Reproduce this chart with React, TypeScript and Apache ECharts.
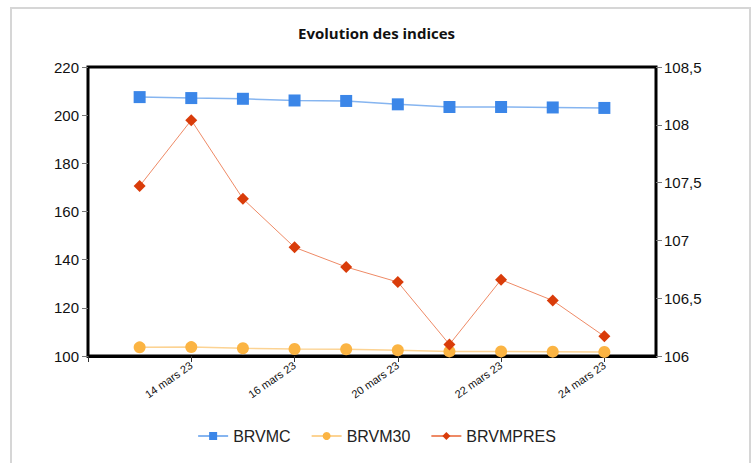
import React, { useEffect, useRef } from "react";
import * as echarts from "echarts";

const dates = ["13 mars 23", "14 mars 23", "15 mars 23", "16 mars 23", "17 mars 23", "20 mars 23", "21 mars 23", "22 mars 23", "23 mars 23", "24 mars 23"];
const brvmc = [207.5, 207.1, 206.8, 206.1, 205.9, 204.5, 203.4, 203.4, 203.2, 203.0];
const brvm30 = [103.6, 103.7, 103.2, 102.9, 102.8, 102.4, 101.9, 101.9, 101.8, 101.7];
const brvmpres = [107.47, 108.04, 107.36, 106.94, 106.77, 106.64, 106.1, 106.66, 106.48, 106.17];
const leftTicks = { min: 100, max: 220, interval: 20 };
const rightTicks = { min: 106, max: 108.5, interval: 0.5 };

const pad = (arr: (number | string)[], fill: any) => [fill, ...arr, fill];

export default function App() {
  const ref = useRef<HTMLDivElement>(null);
  useEffect(() => {
    if (!ref.current) return;
    const chart = echarts.init(ref.current, null, { renderer: "svg" });
    const axisFont = { fontFamily: "Liberation Sans, Arial, sans-serif", color: "#111" };
    chart.setOption({
      animation: false,
      backgroundColor: "#fff",
      title: {
        text: "Evolution des indices",
        left: "center",
        top: 20,
        textStyle: { fontFamily: "Open Sans, DejaVu Sans, sans-serif", fontWeight: "bold", fontSize: 15, color: "#111" },
      },
      graphic: [
        {
          type: "rect",
          shape: { x: 11, y: 8, width: 739, height: 470 },
          style: { fill: "none", stroke: "#d6d6d6", lineWidth: 2 },
          silent: true,
          z: -1,
        },
      ],
      grid: {
        left: 88,
        right: 97,
        top: 67,
        bottom: 107,
        show: true,
        borderColor: "#000",
        borderWidth: 3,
        containLabel: false,
      },
      legend: {
        bottom: 14,
        left: "center",
        itemWidth: 30,
        itemHeight: 10,
        itemGap: 20,
        textStyle: { ...axisFont, fontSize: 16, color: "#222" },
        data: ["BRVMC", "BRVM30", "BRVMPRES"],
      },
      xAxis: {
        type: "category",
        boundaryGap: false,
        data: pad(dates, ""),
        axisLine: { show: true, lineStyle: { color: "#000", width: 3 } },
        axisTick: {
          show: true,
          length: 6,
          lineStyle: { color: "#333", width: 1 },
          interval: (i: number) => i % 2 === 0 && i <= 10,
        },
        axisLabel: {
          ...axisFont,
          fontSize: 11,
          rotate: 35,
          margin: 8,
          interval: (i: number) => i % 2 === 0,
        },
        splitLine: { show: false },
      },
      yAxis: [
        {
          type: "value",
          min: leftTicks.min,
          max: leftTicks.max,
          interval: leftTicks.interval,
          axisLine: { show: false },
          axisTick: { show: true, length: 6, lineStyle: { color: "#777" } },
          axisLabel: { ...axisFont, fontSize: 15, margin: 9 },
          splitLine: { show: false },
        },
        {
          type: "value",
          position: "right",
          min: rightTicks.min,
          max: rightTicks.max,
          interval: rightTicks.interval,
          axisLine: { show: false },
          axisTick: { show: true, length: 6, lineStyle: { color: "#777" } },
          axisLabel: {
            ...axisFont,
            fontSize: 15,
            margin: 8,
            formatter: (v: number) => String(v).replace(".", ","),
          },
          splitLine: { show: false },
        },
      ],
      series: [
        {
          name: "BRVMC",
          type: "line",
          yAxisIndex: 0,
          data: pad(brvmc, null),
          symbol: "rect",
          symbolSize: 12,
          itemStyle: { color: "#3b86e8" },
          lineStyle: { color: "#86b5f0", width: 1.5 },
        },
        {
          name: "BRVM30",
          type: "line",
          yAxisIndex: 0,
          data: pad(brvm30, null),
          symbol: "circle",
          symbolSize: 12,
          itemStyle: { color: "#fbb443" },
          lineStyle: { color: "#fcd393", width: 1.5 },
        },
        {
          name: "BRVMPRES",
          type: "line",
          yAxisIndex: 1,
          data: pad(brvmpres, null),
          symbol: "diamond",
          symbolSize: 12,
          itemStyle: { color: "#d93c0a" },
          lineStyle: { color: "#ee8a66", width: 1 },
        },
      ],
    });
    return () => chart.dispose();
  }, []);
  return <div ref={ref} style={{ position: "fixed", left: 0, top: 0, width: 753, height: 463 }} />;
}
